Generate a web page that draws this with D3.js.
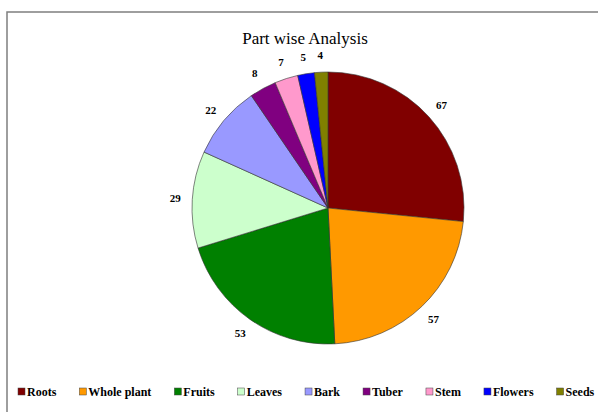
<!DOCTYPE html>
<html>
<head>
<meta charset="utf-8">
<script src="https://cdn.jsdelivr.net/npm/d3@7"></script>
<style>
  body { margin: 0; background: #fff; }
  text { font-family: "Liberation Serif", "DejaVu Serif", serif; }
</style>
</head>
<body>
<div id="chart"></div>
<script>
// data
var parts = ["Roots", "Whole plant", "Fruits", "Leaves", "Bark", "Tuber", "Stem", "Flowers", "Seeds"];
var counts = [67, 57, 53, 29, 22, 8, 7, 5, 4];
var colors = ["#800000", "#ff9900", "#008000", "#ccffcc", "#9999ff", "#800080", "#ff99cc", "#0000ff", "#808000"];

var W = 598, H = 412;
var cx = 328, cy = 208, r = 136;

var svg = d3.select("#chart").append("svg")
    .attr("width", W)
    .attr("height", H);

// frame (only left + top edges are in view)
svg.append("rect")
    .attr("x", 7).attr("y", 12)
    .attr("width", 700).attr("height", 600)
    .attr("fill", "none")
    .attr("stroke", "#7f7f7f")
    .attr("stroke-width", 1.5);

svg.append("text")
    .attr("x", 305).attr("y", 44)
    .attr("text-anchor", "middle")
    .style("font-size", "17px")
    .text("Part wise Analysis");

var pie = d3.pie().sort(null).value(function(d) { return d.v; });
var data = parts.map(function(p, i) { return { name: p, v: counts[i], c: colors[i] }; });
var arcs = pie(data);

var arc = d3.arc().innerRadius(0).outerRadius(r);
var labelArc = d3.arc().innerRadius(r + 17).outerRadius(r + 17);

var g = svg.append("g").attr("transform", "translate(" + cx + "," + cy + ")");

g.selectAll(".slice")
    .data(arcs)
  .enter().append("path")
    .attr("class", "slice")
    .attr("d", arc)
    .attr("fill", function(d) { return d.data.c; })
    .attr("stroke", "#333")
    .attr("stroke-width", 0.6);

g.selectAll(".lbl")
    .data(arcs)
  .enter().append("text")
    .attr("class", "lbl")
    .attr("transform", function(d) { return "translate(" + labelArc.centroid(d) + ")"; })
    .attr("text-anchor", "middle")
    .attr("dy", "0.35em")
    .style("font-size", "11px")
    .style("font-weight", "bold")
    .text(function(d) { return d.data.v; });

// legend, laid out left to right
var legend = svg.append("g").attr("transform", "translate(18,396)");
var xpos = 0;
data.forEach(function(d) {
  var item = legend.append("g").attr("transform", "translate(" + xpos + ",0)");
  item.append("rect")
      .attr("x", 0).attr("y", -8)
      .attr("width", 7).attr("height", 7)
      .attr("fill", d.c)
      .attr("stroke", "#444")
      .attr("stroke-width", 0.5);
  var t = item.append("text")
      .attr("x", 9).attr("y", 0)
      .style("font-size", "12px")
      .style("font-weight", "bold")
      .text(d.name);
  xpos += 9 + t.node().getComputedTextLength() + 23;
});
</script>
</body>
</html>
